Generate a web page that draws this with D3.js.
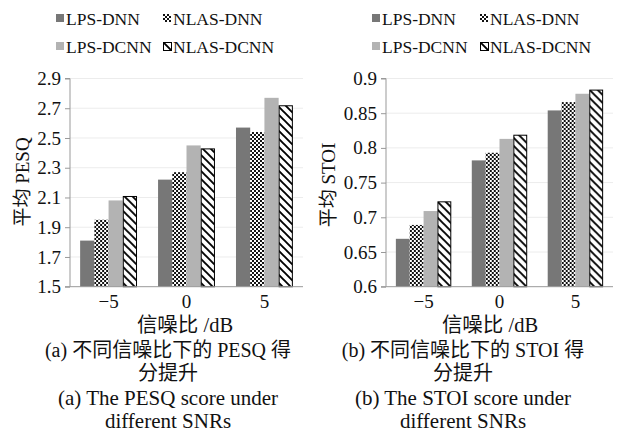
<!DOCTYPE html>
<html>
<head>
<meta charset="utf-8">
<script src="https://cdn.jsdelivr.net/npm/d3@7/dist/d3.min.js"></script>
<style>
  html, body { margin: 0; padding: 0; background: #fff; }
  svg { display: block; }
</style>
</head>
<body>
<svg id="chart" width="619" height="438"></svg>
<script>
// ---- data ----
const categories = ["−5", "0", "5"];
const seriesNames = ["LPS-DNN", "NLAS-DNN", "LPS-DCNN", "NLAS-DCNN"];

const pesqLPSDNN   = [1.81, 2.22, 2.57];
const pesqNLASDNN  = [1.95, 2.27, 2.54];
const pesqLPSDCNN  = [2.08, 2.45, 2.77];
const pesqNLASDCNN = [2.11, 2.43, 2.72];

const stoiLPSDNN   = [0.669, 0.782, 0.854];
const stoiNLASDNN  = [0.689, 0.793, 0.866];
const stoiLPSDCNN  = [0.709, 0.813, 0.878];
const stoiNLASDCNN = [0.723, 0.819, 0.884];

const pesqTicks = [1.5, 1.7, 1.9, 2.1, 2.3, 2.5, 2.7, 2.9];
const stoiTicks = [0.6, 0.65, 0.7, 0.75, 0.8, 0.85, 0.9];

const pesqYTitle = "平均 PESQ";
const stoiYTitle = "平均 STOI";
const xTitle = "信噪比 /dB";
const captionA = ["(a) 不同信噪比下的 PESQ 得", "分提升", "(a) The PESQ score under", "different SNRs"];
const captionB = ["(b) 不同信噪比下的 STOI 得", "分提升", "(b) The STOI score under", "different SNRs"];

// ---- drawing ----
const FONT = '"Liberation Serif", "Times New Roman", "Noto Sans CJK SC", serif';
const svg = d3.select("#chart");
const defs = svg.append("defs");

const checker = defs.append("pattern").attr("id", "checker")
  .attr("patternUnits", "userSpaceOnUse").attr("width", 4).attr("height", 4);
checker.append("rect").attr("width", 4).attr("height", 4).attr("fill", "#fff");
checker.append("rect").attr("width", 2).attr("height", 2).attr("fill", "#111");
checker.append("rect").attr("x", 2).attr("y", 2).attr("width", 2).attr("height", 2).attr("fill", "#111");

const hatch = defs.append("pattern").attr("id", "hatch")
  .attr("patternUnits", "userSpaceOnUse").attr("width", 8).attr("height", 8);
hatch.append("rect").attr("width", 8).attr("height", 8).attr("fill", "#fff");
hatch.append("path").attr("d", "M-2,-2 L10,10 M-2,6 L2,10 M6,-2 L10,2")
  .attr("stroke", "#000").attr("stroke-width", 1.9);

const fills = ["#777777", "url(#checker)", "#b3b3b3", "url(#hatch)"];
const strokes = ["none", "none", "none", "#000"];

function styleText(sel, size) {
  sel.style("font-family", FONT).style("font-size", size + "px").attr("fill", "#111");
}

function drawChart(o) {
  const g = svg.append("g");
  const x = d3.scaleBand().domain(categories).range([o.x0, o.x1])
    .paddingInner(0.27).paddingOuter(0.13);
  const xs = d3.scaleBand().domain(seriesNames).range([0, x.bandwidth()]).padding(0);
  const y = d3.scaleLinear().domain([o.ticks[0], o.ticks[o.ticks.length - 1]]).range([o.yBot, o.yTop]);

  // gridlines
  g.append("g").selectAll("line").data(o.ticks.slice(1)).join("line")
    .attr("x1", o.x0).attr("x2", o.x1)
    .attr("y1", d => y(d)).attr("y2", d => y(d))
    .attr("stroke", "#ececec").attr("stroke-width", 1);

  // bars
  const rows = categories.map((c, i) => ({ c, vals: o.series.map((s, k) => ({ k, v: s[i] })) }));
  const grp = g.append("g").selectAll("g").data(rows).join("g")
    .attr("transform", d => `translate(${x(d.c)},0)`);
  grp.selectAll("rect").data(d => d.vals).join("rect")
    .attr("x", d => xs(seriesNames[d.k]) + (d.k === 3 ? 0.5 : 0))
    .attr("y", d => y(d.v) + (d.k === 3 ? 0.5 : 0))
    .attr("width", d => xs.bandwidth() - (d.k === 3 ? 1 : 0))
    .attr("height", d => o.yBot - y(d.v) - (d.k === 3 ? 0.5 : 0))
    .attr("fill", d => fills[d.k])
    .attr("stroke", d => strokes[d.k]).attr("stroke-width", 1);

  // y axis
  const yAxis = d3.axisLeft(y).tickValues(o.ticks).tickSize(5).tickPadding(4)
    .tickFormat(d => String(d));
  const ya = g.append("g").attr("transform", `translate(${o.x0},0)`).call(yAxis);
  ya.attr("font-family", null).attr("font-size", null);
  ya.select(".domain").attr("stroke", "#999").attr("d", `M-5,${o.yTop}H0V${o.yBot}H-5`);
  ya.selectAll(".tick line").attr("stroke", "#999");
  styleText(ya.selectAll(".tick text"), 19);

  // x axis
  const xAxis = d3.axisBottom(x).tickSize(0).tickPadding(8);
  const xa = g.append("g").attr("transform", `translate(0,${o.yBot})`).call(xAxis);
  xa.attr("font-family", null).attr("font-size", null);
  xa.select(".domain").attr("stroke", "#999").attr("d", `M${o.x0},0H${o.x1}`);
  styleText(xa.selectAll(".tick text"), 19);

  // y title
  styleText(g.append("text")
    .attr("transform", `translate(${o.yTitleX},${o.yTitleY}) rotate(-90)`)
    .attr("text-anchor", "middle").attr("dominant-baseline", "central")
    .text(o.yTitle), 19);

  // x title
  styleText(g.append("text").attr("x", o.xTitleX).attr("y", 332)
    .attr("text-anchor", "middle").text(xTitle), 20.5);

  // captions
  const caps = g.append("g").selectAll("text").data(o.caption).join("text")
    .attr("x", o.capX).attr("y", (d, i) => [357, 380, 405, 428][i])
    .attr("text-anchor", "middle").text(d => d);
  styleText(caps, 20);
  caps.filter((d, i) => i >= 2).style("font-size", "21px");

  // legend
  const lg = g.append("g");
  const items = lg.selectAll("g").data(seriesNames).join("g")
    .attr("transform", (d, i) => `translate(${o.legX[i % 2]},${[14, 42][Math.floor(i / 2)]})`);
  items.append("rect").attr("width", 8).attr("height", 8)
    .attr("x", (d, i) => i === 3 ? 0.5 : 0).attr("y", (d, i) => i === 3 ? 0.5 : 0)
    .attr("fill", (d, i) => fills[i]).attr("stroke", (d, i) => strokes[i])
    .attr("stroke-width", 1);
  styleText(items.append("text").attr("x", 10).attr("y", 10.5).text(d => d), 17.5);
}

drawChart({
  x0: 70, x1: 303, yTop: 78.5, yBot: 286.7,
  ticks: pesqTicks,
  series: [pesqLPSDNN, pesqNLASDNN, pesqLPSDCNN, pesqNLASDCNN],
  yTitle: pesqYTitle, yTitleX: 22, yTitleY: 182,
  xTitleX: 185, capX: 168, caption: captionA,
  legX: [56, 163]
});

drawChart({
  x0: 386, x1: 613, yTop: 78.5, yBot: 286.7,
  ticks: stoiTicks,
  series: [stoiLPSDNN, stoiNLASDNN, stoiLPSDCNN, stoiNLASDCNN],
  yTitle: stoiYTitle, yTitleX: 328, yTitleY: 185,
  xTitleX: 490, capX: 463, caption: captionB,
  legX: [372, 480]
});
</script>
</body>
</html>
